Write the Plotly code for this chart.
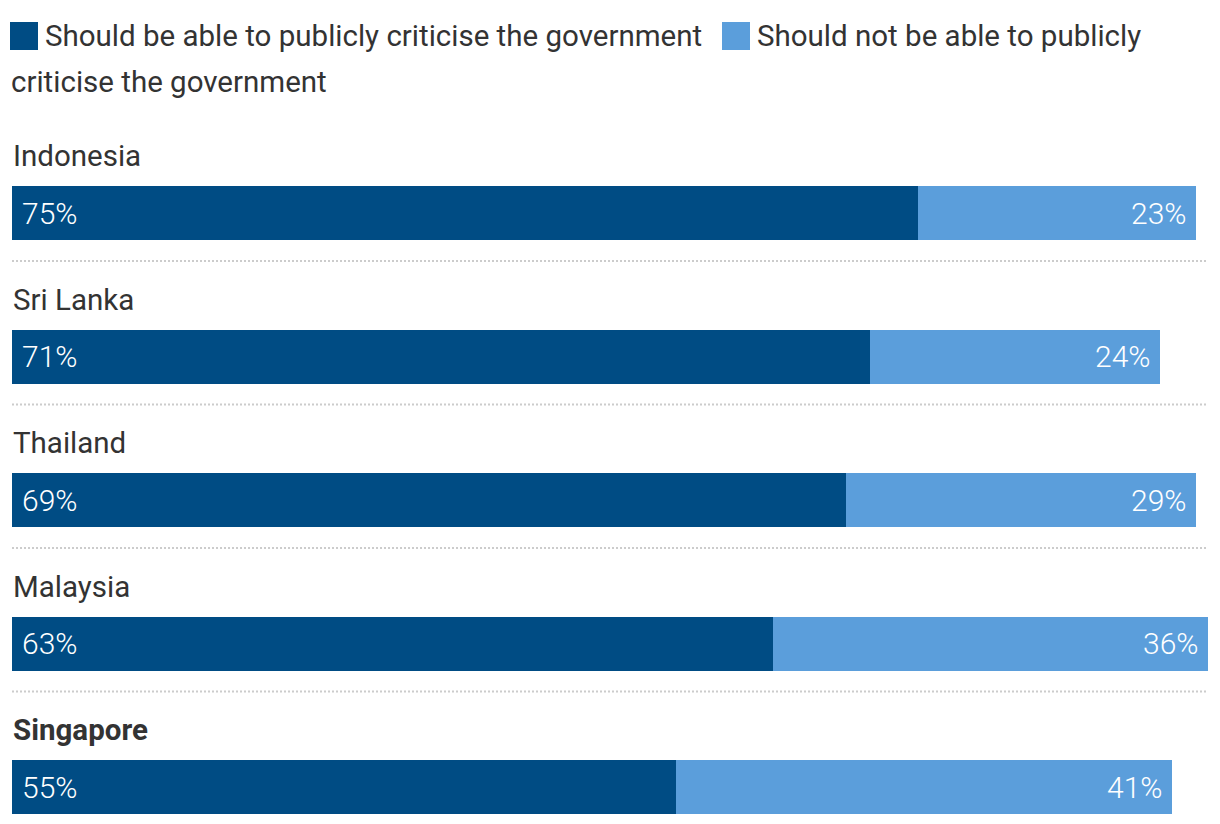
import plotly.graph_objects as go

countries = ["Indonesia", "Sri Lanka", "Thailand", "Malaysia", "Singapore"]
should_be_able = [75, 71, 69, 63, 55]
should_not_be_able = [23, 24, 29, 36, 41]
series_names = ["Should be able to publicly criticise the government",
                "Should not be able to publicly criticise the government"]
colors = ["#004c84", "#5b9edb"]
highlight = "Singapore"

# page body has an 8px margin; figure coordinates = page pixels - 8
OFF = 8
W, H = 1204, 808
FONT = "Roboto"
FS = 29.5
TXT = "#333333"


def px(x):
    return (x - OFF) / W


def py(y):
    return 1 - (y - OFF) / H


ROW = 143.5
C0 = 213 - OFF
PX_PER_PCT = 12.08
x_left = px(12)
x_max = (W - (12 - OFF)) / PX_PER_PCT

ypos = list(range(len(countries)))

fig = go.Figure()
fig.add_trace(go.Bar(y=ypos, x=should_be_able, orientation="h", name=series_names[0],
                     marker=dict(color=colors[0], line=dict(width=0)), width=54 / ROW,
                     hoverinfo="x"))
fig.add_trace(go.Bar(y=ypos, x=should_not_be_able, orientation="h", name=series_names[1],
                     marker=dict(color=colors[1], line=dict(width=0)), width=54 / ROW,
                     hoverinfo="x"))

annotations = []
shapes = []
for i, (c, a, b) in enumerate(zip(countries, should_be_able, should_not_be_able)):
    label = f"<b>{c}</b>" if c == highlight else c
    annotations.append(dict(x=0, y=i, xref="x", yref="y", text=label, showarrow=False,
                            xanchor="left", yanchor="middle", yshift=57, xshift=-1,
                            font=dict(family=FONT, size=FS, color=TXT)))
    annotations.append(dict(x=0, y=i, xref="x", yref="y", text=f"{a}%", showarrow=False,
                            xanchor="left", yanchor="middle", xshift=8,
                            font=dict(family=FONT, size=30, color="white", weight=300)))
    annotations.append(dict(x=a + b, y=i, xref="x", yref="y", text=f"{b}%", showarrow=False,
                            xanchor="right", yanchor="middle", xshift=-8,
                            font=dict(family=FONT, size=30, color="white", weight=300)))
    if i < len(countries) - 1:
        shapes.append(dict(type="line", xref="paper", yref="y", x0=px(12), x1=px(1208),
                           y0=i + 48 / ROW, y1=i + 48 / ROW,
                           line=dict(color="#cccccc", width=2, dash="2px,2px")))

# legend (custom, wrapping like the original)
shapes.append(dict(type="rect", xref="paper", yref="paper", x0=px(10), x1=px(38),
                   y0=py(50), y1=py(22), fillcolor=colors[0], line=dict(width=0)))
shapes.append(dict(type="rect", xref="paper", yref="paper", x0=px(722), x1=px(750),
                   y0=py(50), y1=py(22), fillcolor=colors[1], line=dict(width=0)))
first_line, second_line = series_names[1].split("publicly ")
annotations.append(dict(x=px(43), y=py(36), xref="paper", yref="paper", text=series_names[0],
                        showarrow=False, xanchor="left", yanchor="middle",
                        font=dict(family=FONT, size=FS, color=TXT)))
annotations.append(dict(x=px(755), y=py(36), xref="paper", yref="paper", text=first_line + "publicly",
                        showarrow=False, xanchor="left", yanchor="middle",
                        font=dict(family=FONT, size=FS, color=TXT)))
annotations.append(dict(x=px(9), y=py(82), xref="paper", yref="paper", text=second_line,
                        showarrow=False, xanchor="left", yanchor="middle",
                        font=dict(family=FONT, size=FS, color=TXT)))

fig.update_layout(
    width=W, height=H, barmode="stack", showlegend=False,
    margin=dict(l=0, r=0, t=0, b=0),
    plot_bgcolor="white", paper_bgcolor="white",
    xaxis=dict(range=[0, x_max], domain=[x_left, 1], visible=False, fixedrange=True),
    yaxis=dict(range=[(H - C0) / ROW, -C0 / ROW], visible=False, fixedrange=True),
    annotations=annotations, shapes=shapes, bargap=0,
)

fig.write_html("out.html")
